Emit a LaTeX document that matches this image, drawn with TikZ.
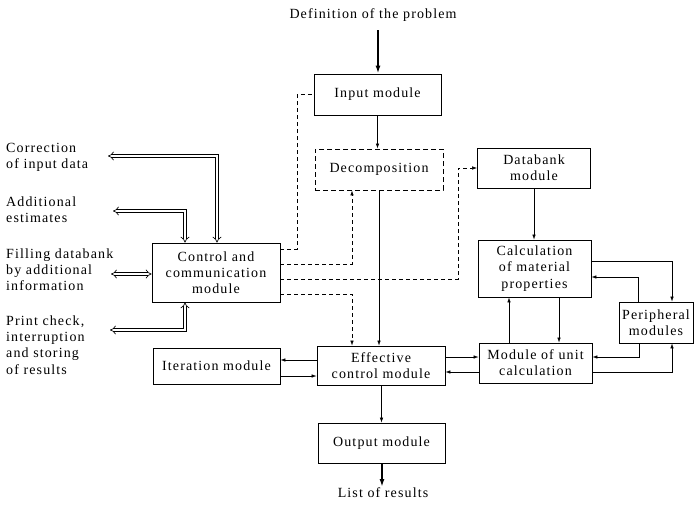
\documentclass[tikz,border=0pt]{standalone}
\usepackage{fontspec}
\setmainfont{Liberation Serif}[LetterSpace=8]
\usetikzlibrary{arrows.meta}
\begin{document}
\begin{tikzpicture}[x=1pt,y=-1pt, font=\fontsize{14}{16.2}\selectfont,
  box/.style={draw, line width=0.8pt, align=center, inner sep=0pt},
  arr/.style={line width=0.6pt, -{Latex[length=5pt,width=3.5pt]}},
  dsh/.style={line width=0.6pt, dash pattern=on 4pt off 3pt},
  dsharr/.style={dsh, -{Latex[length=5pt,width=3.5pt]}},
  dbl/.style={double, double distance=2.4pt, line width=0.65pt, {Implies[scale=1.25]}-{Implies[scale=1.25]}},
  bigarr/.style={line width=1.6pt, -{Latex[length=8pt,width=5pt]}},
  lbl/.style={align=left, anchor=west, inner sep=0pt}]
\useasboundingbox (0,0) rectangle (694,514);

% boxes
\node[box, minimum width=127, minimum height=41] (input) at (377.5,94.5) {Input module};
\node[box, minimum width=128, minimum height=41, line width=0.9pt, dash pattern=on 5pt off 3pt] (decomp) at (379,169.5) {Decomposition};
\node[box, minimum width=113, minimum height=40] (databank) at (534,168) {Databank\\module};
\node[box, minimum width=113, minimum height=57] (calc) at (534.5,268.5) {Calculation\\of material\\properties};
\node[box, minimum width=74, minimum height=41] (periph) at (656,322.5) {Peripheral\\modules};
\node[box, minimum width=113, minimum height=40] (unit) at (535.5,363) {Module of unit\\calculation};
\node[box, minimum width=128, minimum height=39] (effective) at (381,365.5) {Effective\\control module};
\node[box, minimum width=127, minimum height=36] (iteration) at (216.5,366) {Iteration module};
\node[box, minimum width=127, minimum height=40] (output) at (381.5,443) {Output module};
\node[box, minimum width=128, minimum height=59] (control) at (216,272.5) {Control and\\communication\\module};

% free texts
\node[inner sep=0pt] (def) at (373,15) {Definition of the problem};
\node[inner sep=0pt] (res) at (383,493) {List of results};
\node[lbl] (t1) at (6,157.5) {Correction\\of input data};
\node[lbl] (t2) at (6,209.5) {Additional\\estimates};
\node[lbl] (t3) at (6,269.5) {Filling databank\\by additional\\information};
\node[lbl] (t4) at (6,345) {Print check,\\interruption\\and storing\\of results};

% thick in/out arrows
\coordinate (top) at (378,30);
\coordinate (bot) at (382,487);
\draw[bigarr] (top) -- (top |- input.north);
\draw[bigarr] (output.south -| bot) -- (bot);

% main solid arrows
\draw[arr] (input.south) -- (input.south |- decomp.north);
\draw[arr] (decomp.south) -- (decomp.south |- effective.north);
\draw[arr] (databank.south) -- (databank.south |- calc.north);
\draw[arr] ([xshift=-26.5]unit.north) -- ([xshift=-26.5]unit.north |- calc.south);
\draw[arr] ([xshift=24.5]calc.south) -- ([xshift=24.5]calc.south |- unit.north);
\draw[arr] ([yshift=7.5]calc.east) -| ([xshift=16]periph.north);
\draw[arr] ([xshift=-18]periph.north) |- ([yshift=-8.5]calc.east);
\draw[arr] ([xshift=-17]periph.south) |- ([yshift=6]unit.east);
\draw[arr] ([yshift=-9]unit.east) -| ([xshift=16]periph.south);
\draw[arr] ([yshift=8.5]effective.east) -- ([yshift=8.5]effective.east -| unit.west);
\draw[arr] ([yshift=-6.5]effective.east -| unit.west) -- ([yshift=-6.5]effective.east);
\draw[arr] ([yshift=5.5]effective.west) -- ([yshift=5.5]effective.west -| iteration.east);
\draw[arr] ([yshift=-10.5]effective.west -| iteration.east) -- ([yshift=-10.5]effective.west);
\draw[arr] (effective.south -| output.north) -- (output.north);

% dashed control links
\draw[dsh] ([yshift=23.5]control.east) -- ++(17,0) |- (input.west);
\draw[dsharr] ([yshift=8.5]control.east) -| ([xshift=-27]decomp.south);
\draw[dsharr] ([yshift=-6.5]control.east) -- ++(178,0) |- (databank.west);
\draw[dsharr] ([yshift=-21.5]control.east) -| ([xshift=-29]effective.north);

% double arrows
\coordinate (c1) at (108,156);
\coordinate (c2) at (113,211);
\coordinate (c3) at (111,274);
\coordinate (c4) at (110,330);
\draw[dbl] (c1) -| ([xshift=1]control.north);
\draw[dbl] (c2) -| ([xshift=-31]control.north);
\draw[dbl] (c3) -- (control.west |- c3);
\draw[dbl] (c4) -| ([xshift=-31]control.south);
\end{tikzpicture}
\end{document}
